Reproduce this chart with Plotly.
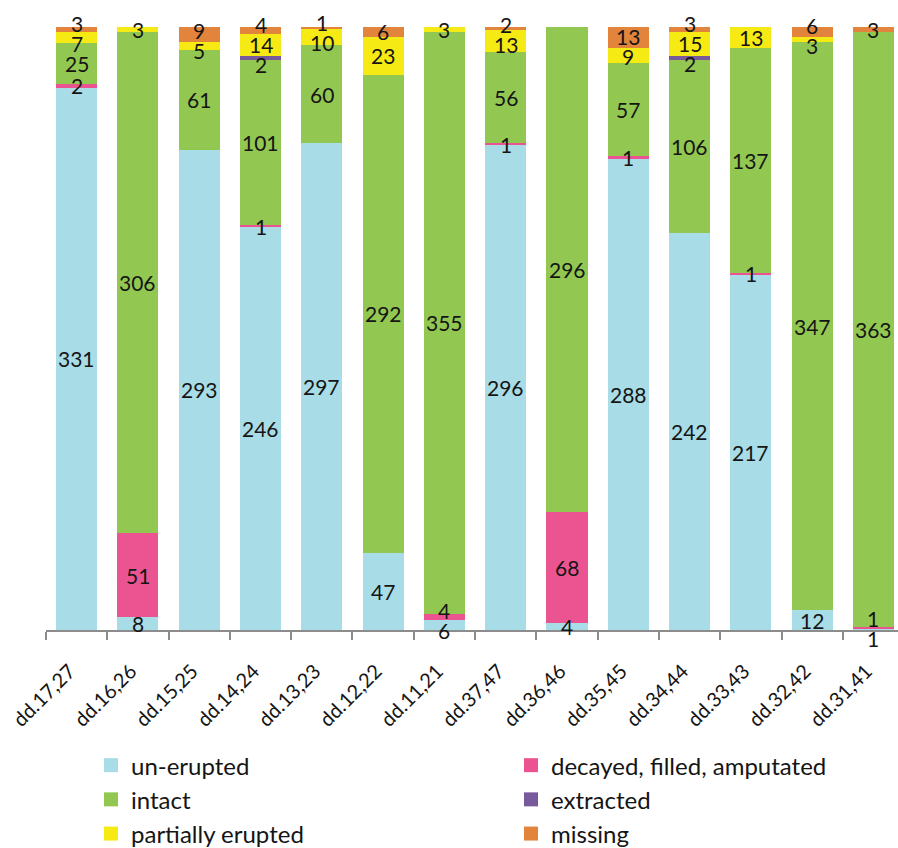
import plotly.graph_objects as go

# Tooth-pair categories along the x axis
categories = ["dd.17,27", "dd.16,26", "dd.15,25", "dd.14,24", "dd.13,23", "dd.12,22", "dd.11,21",
              "dd.37,47", "dd.36,46", "dd.35,45", "dd.34,44", "dd.33,43", "dd.32,42", "dd.31,41"]

# Counts per status (stacked bottom to top in this order)
un_erupted = [331, 8, 293, 246, 297, 47, 6, 296, 4, 288, 242, 217, 12, 1]
decayed = [2, 51, 0, 1, 0, 0, 4, 1, 68, 1, 0, 1, 0, 1]
intact = [25, 306, 61, 101, 60, 292, 355, 56, 296, 57, 106, 137, 347, 363]
extracted = [0, 0, 0, 2, 0, 0, 0, 0, 0, 0, 2, 0, 0, 0]
partially_erupted = [7, 3, 5, 14, 10, 23, 3, 13, 0, 9, 15, 13, 3, 0]
missing = [3, 0, 9, 4, 1, 6, 0, 2, 0, 13, 3, 0, 6, 3]

# (label, values, colour, legend column)
series = [
    ("un-erupted", un_erupted, "#A8DCE7", "legend"),
    ("decayed, filled, amputated", decayed, "#EB5490", "legend2"),
    ("intact", intact, "#92C851", "legend"),
    ("extracted", extracted, "#785A9C", "legend2"),
    ("partially erupted", partially_erupted, "#F6EA14", "legend"),
    ("missing", missing, "#E2843C", "legend2"),
]

FONT = "Lato"
INK = "#151515"
W, H = 898, 848
M_L, M_R, M_T, M_B = 46, 0, 27, 218
total = max(sum(s[1][i] for s in series) for i in range(len(categories)))
plot_h = H - M_T - M_B
plot_w = W - M_L - M_R
px_per_unit = plot_h / total

fig = go.Figure()
for name, vals, color, lg in series:
    fig.add_trace(go.Bar(
        x=categories, y=vals, name=name, legendgroup=name, showlegend=False,
        marker=dict(color=color, line=dict(width=0)),
        hoverinfo="x+y+name",
    ))

# Legend entries with square swatches, split into two columns
for name, vals, color, lg in series:
    fig.add_trace(go.Scatter(
        x=[None], y=[None], mode="markers", name=name, legendgroup=name, legend=lg,
        marker=dict(symbol="square", size=14, color=color),
        showlegend=True, hoverinfo="skip",
    ))

# Value labels: centred on each segment, nudged apart where segments are thin
SEP = 20.0
annotations = []
for i, cat in enumerate(categories):
    base = 0
    items = []
    for name, vals, color, lg in series:
        v = vals[i]
        if v > 0:
            c = base + v / 2
            items.append([c * px_per_unit, c, v])
        base += v
    for _ in range(200):
        moved = False
        for j in range(len(items) - 1):
            gap = items[j + 1][0] - items[j][0]
            if gap < SEP - 1e-6:
                d = (SEP - gap) / 2
                items[j][0] -= d
                items[j + 1][0] += d
                moved = True
        if not moved:
            break
    for pos, c, v in items:
        annotations.append(dict(
            x=cat, y=c, xref="x", yref="y", text=str(v), showarrow=False,
            xanchor="center", yanchor="middle", yshift=pos - c * px_per_unit,
            font=dict(family=FONT, size=21, color=INK),
        ))

legend_common = dict(
    orientation="v", traceorder="normal", xanchor="left", yanchor="top",
    y=-0.1875, font=dict(family=FONT, size=24, color=INK),
    itemwidth=30, bgcolor="rgba(0,0,0,0)", borderwidth=0,
)

fig.update_layout(
    width=W, height=H,
    margin=dict(l=M_L, r=M_R, t=M_T, b=M_B, autoexpand=False),
    barmode="stack", bargap=0.33,
    plot_bgcolor="white", paper_bgcolor="white",
    font=dict(family=FONT, size=21, color=INK),
    xaxis=dict(
        type="category", range=[-0.5, 13.4],
        showline=True, linecolor="#8c8c8c", linewidth=1.5,
        ticks="outside", tickson="boundaries", ticklen=8, tickcolor="#8c8c8c", tickwidth=1.5,
        tickangle=-45, tickfont=dict(family=FONT, size=20, color=INK),
        ticklabelstandoff=20, ticklabelshift=-7,
        showgrid=False, zeroline=False,
    ),
    yaxis=dict(range=[0, total], visible=False, showgrid=False, zeroline=False),
    legend=dict(x=(91 - M_L) / plot_w, **legend_common),
    legend2=dict(x=(511 - M_L) / plot_w, **legend_common),
    annotations=annotations,
    showlegend=True,
)

fig.write_html("out.html")
